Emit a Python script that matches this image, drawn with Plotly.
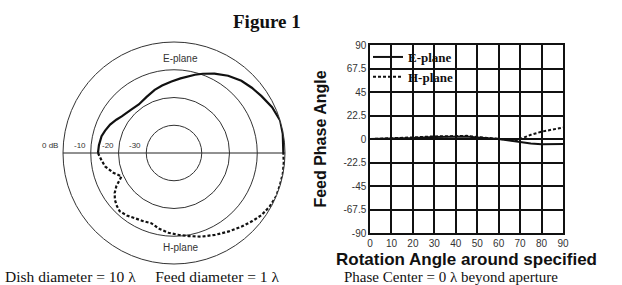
import plotly.graph_objects as go

# ---------------- data ----------------
# Polar radiation pattern (dB vs angle in degrees)
e_theta = [0, 10, 17, 25, 33, 40, 47, 55, 63, 70, 75, 85, 92, 100, 107, 116, 126, 135, 145, 150, 156, 162, 167, 174, 180]
e_db = [-0.6, -0.2, 0.0, -1.0, -2.4, -3.4, -4.4, -6.0, -7.9, -9.6, -10.8, -13.0, -14.2, -15.3, -16.2, -17.5, -18.4, -18.0, -17.0, -16.0, -14.8, -13.9, -13.2, -12.8, -12.6]

h_theta = [180, 186, 191, 198, 204, 207, 210, 214, 218.5, 223, 227, 233, 239, 245, 252, 259, 266, 273, 280, 288, 296.6, 305, 312.6, 319, 324.7, 331, 337, 343, 349.5, 355, 360]
h_db = [-12.6, -13.8, -14.7, -17.0, -19.3, -17.8, -16.0, -14.2, -12.8, -11.9, -11.3, -11.8, -12.6, -13.0, -13.4, -12.2, -11.2, -10.5, -9.6, -8.3, -7.0, -5.5, -4.0, -2.6, -1.3, -0.5, 0.0, -0.1, -0.1, -0.3, -0.6]

# Feed phase angle vs rotation angle
rot_angle = [0, 10, 20, 30, 40, 45, 50, 55, 60, 65, 68, 70, 75, 80, 85, 90]
e_phase = [0, 0.3, 1.0, 2.0, 2.5, 2.3, 1.5, 0.8, 0, -1.5, -2.5, -3.0, -4.3, -5.0, -5.0, -4.8]
h_phase = [0, 0.5, 1.5, 2.5, 3.0, 3.0, 2.0, 1.0, 0, -1.0, -1.5, 0.0, 4.0, 7.0, 9.0, 11.0]

radial_ticks = [-30, -20, -10, 0]
radial_labels = ["-30", "-20", "-10", "0 dB"]
phase_ticks = [90, 67.5, 45, 22.5, 0, -22.5, -45, -67.5, -90]
phase_labels = ["90", "67.5", "45", "22.5", "0", "-22.5", "-45", "-67.5", "-90"]
rot_ticks = [0, 10, 20, 30, 40, 50, 60, 70, 80, 90]

# ---------------- layout constants ----------------
W, H = 622, 285
R_MIN, R_MAX = -40, 0
pcx, pcy, prad = 174, 153, 111   # polar centre / radius in px (from top-left)

SERIF = "Liberation Serif"
SANS = "Liberation Sans"

fig = go.Figure()

fig.add_trace(go.Scatterpolar(r=e_db, theta=e_theta, mode="lines",
                              line=dict(color="#111", width=2.2), showlegend=False))
fig.add_trace(go.Scatterpolar(r=h_db, theta=h_theta, mode="lines",
                              line=dict(color="#111", width=2.2, dash="3px,2px"), showlegend=False))

fig.add_trace(go.Scatter(x=rot_angle, y=e_phase, mode="lines", name="E-plane",
                         line=dict(color="#111", width=2)))
fig.add_trace(go.Scatter(x=rot_angle, y=h_phase, mode="lines", name="H-plane",
                         line=dict(color="#111", width=2, dash="3px,2px")))


def pos(px, py):
    return px / W, (H - py) / H


annotations = []
# radial labels just left of each circle on the horizontal diameter
for v, t in zip(radial_ticks, radial_labels):
    px = pcx - (v - R_MIN) / (R_MAX - R_MIN) * prad
    x, y = pos(px - 3, pcy - 1)
    annotations.append(dict(x=x, y=y, text=t, xanchor="right", yanchor="bottom",
                            font=dict(family=SANS, size=8, color="#333")))


def note(px, py, text, family, size, xanchor="center", color="#111"):
    x, y = pos(px, py)
    annotations.append(dict(x=x, y=y, text=text, xanchor=xanchor, yanchor="middle",
                            font=dict(family=family, size=size, color=color)))


note(180, 59, "E-plane", SANS, 10, color="#333")
note(180, 247, "H-plane", SANS, 10, color="#333")
note(267, 21, "<b>Figure 1</b>", SERIF, 19)
note(3, 276, "Dish diameter = 10 \u03bb&nbsp;&nbsp;&nbsp;&nbsp;&nbsp;Feed diameter = 1 \u03bb", SERIF, 15.5, "left")
note(342, 277, "Phase Center = 0 \u03bb beyond aperture", SERIF, 15, "left")
for a in annotations:
    a.update(xref="paper", yref="paper", showarrow=False)

fig.update_layout(
    width=W, height=H,
    margin=dict(l=0, r=0, t=0, b=0, pad=0, autoexpand=False),
    paper_bgcolor="white", plot_bgcolor="white",
    polar=dict(
        domain=dict(x=[(pcx - prad) / W, (pcx + prad) / W],
                    y=[(H - pcy - prad) / H, (H - pcy + prad) / H]),
        bgcolor="white",
        radialaxis=dict(range=[R_MIN, R_MAX], tickvals=radial_ticks[:-1], showticklabels=False,
                        ticks="", showline=False, gridcolor="#333", gridwidth=1),
        angularaxis=dict(tickvals=[0, 180], showticklabels=False, ticks="", showline=True,
                         linecolor="#333", linewidth=1, gridcolor="#222", gridwidth=1),
    ),
    xaxis=dict(domain=[370 / W, 563 / W], range=[0, 90], tickvals=rot_ticks,
               showgrid=True, gridcolor="#111", gridwidth=1.5, zeroline=False,
               showline=True, linecolor="#111", linewidth=1.5, mirror=True, ticks="",
               automargin=False,
               tickfont=dict(family=SANS, size=10, color="#333"),
               title=dict(text="<b>Rotation Angle around specified</b>", standoff=5,
                          font=dict(family=SANS, size=17, color="#111"))),
    yaxis=dict(domain=[(H - 233) / H, (H - 45) / H], range=[-90, 90], tickvals=phase_ticks,
               ticktext=phase_labels, showgrid=True, gridcolor="#111", gridwidth=1.5, zeroline=False,
               showline=True, linecolor="#111", linewidth=1.5, mirror=True, ticks="",
               automargin=False,
               tickfont=dict(family=SANS, size=10, color="#333"),
               title=dict(text="<b>Feed Phase Angle</b>", standoff=13,
                          font=dict(family=SANS, size=16, color="#111"))),
    legend=dict(x=368 / W, y=(H - 42) / H, xanchor="left", yanchor="top",
                bgcolor="rgba(0,0,0,0)", font=dict(family=SERIF, size=13, color="#111", weight="bold"),
                tracegroupgap=0),
    annotations=annotations,
    showlegend=True,
)

fig.write_html("out.html", config={"displayModeBar": False},
               post_script="document.body.style.margin='0';document.body.style.overflow='hidden';")
